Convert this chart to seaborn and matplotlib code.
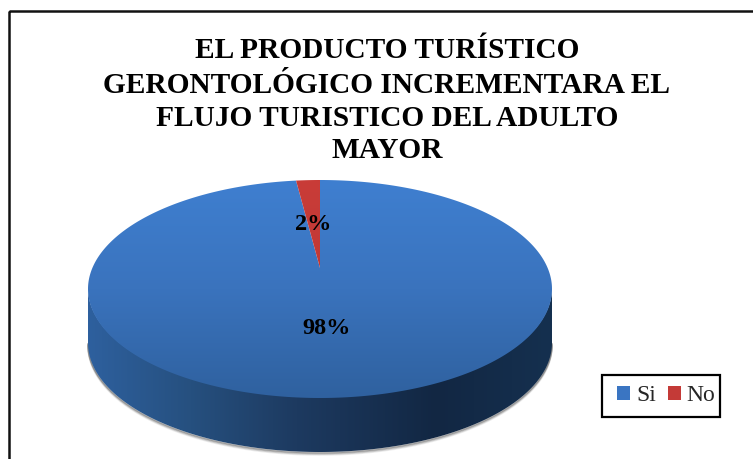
import numpy as np
import matplotlib
matplotlib.use("Agg")
import matplotlib.pyplot as plt
import seaborn as sns
from matplotlib.colors import LinearSegmentedColormap
from matplotlib.patches import Polygon, Patch, Rectangle

categories = ["Si", "No"]
values = [98, 2]
title_lines = ["EL PRODUCTO TURÍSTICO", "GERONTOLÓGICO INCREMENTARA EL",
               "FLUJO TURISTICO DEL ADULTO", "MAYOR"]
slice_colors = ["#3a75c2", "#c43a37"]

sns.set_theme(style="white")
plt.rcParams["font.family"] = ["Liberation Serif", "DejaVu Sans"]

W, H = 753, 459
fig = plt.figure(figsize=(W / 100, H / 100), dpi=100, facecolor="white")
ax = fig.add_axes([0, 0, 1, 1])
ax.set_xlim(0, W)
ax.set_ylim(H, 0)
ax.axis("off")

# helper axes: the pie is computed on a unit disc, then put in perspective
pie_ax = fig.add_axes([0, 0, .1, .1])
wedges, _ = pie_ax.pie(values, startangle=90, counterclock=False, radius=1)
pie_ax.set_visible(False)

cx, apex_y = 320, 268
c = 42 / 218
a = 88 * (1 + c)
half_w = 232
k = half_w * np.sqrt(1 - c ** 2)


def project(v):
    d = 1 + c * v[:, 1]
    return np.column_stack([cx + k * v[:, 0] / d, apex_y - a * v[:, 1] / d])


def wedge_outline(w):
    th = np.radians(np.linspace(w.theta1, w.theta2, 400))
    rim = np.column_stack([w.r * np.cos(th), w.r * np.sin(th)])
    return np.vstack([[0.0, 0.0], rim])


ell_cy, ell_ry = 289, 109
depth = 54
t = np.linspace(0, np.pi, 400)
top_x = cx + half_w * np.cos(t)
top_y = ell_cy + ell_ry * np.sin(t)
wall_poly = np.concatenate([np.column_stack([top_x, top_y + depth]),
                            np.column_stack([top_x[::-1], top_y[::-1] - 1])])

# frame
ax.add_patch(Rectangle((9, 11), W + 20, H + 20, fill=False, ec="#111111", lw=1.8, zorder=1))

# soft shadow under the wall
for off, al in [(3.0, .10), (2.2, .18), (1.4, .28), (0.7, .4)]:
    ax.plot(top_x, top_y + depth + off, color="#555555", alpha=al,
            lw=1.2, zorder=2, solid_capstyle="round")

# wall with a horizontal gradient
wall_cmap = LinearSegmentedColormap.from_list(
    "wall", [(0, "#2e609e"), (.22, "#26507f"), (.45, "#1d3a60"), (.75, "#122743"), (1, "#15304f")])
im = ax.imshow(np.linspace(0, 1, 256)[None, :], extent=(cx - half_w, cx + half_w, H, 0),
               cmap=wall_cmap, aspect="auto", zorder=3)
clip = Polygon(wall_poly, transform=ax.transData, fc="none", ec="none")
ax.add_patch(clip)
im.set_clip_path(clip)

# top face with a vertical gradient, from the pie's wedges
face_maps = [
    LinearSegmentedColormap.from_list("b", ["#3f7fd0", "#3a73bd", "#2f619f"]),
    LinearSegmentedColormap.from_list("r", ["#c93c38", "#b73431"]),
]
for w, cm in zip(wedges, face_maps):
    poly = Polygon(project(wedge_outline(w)), closed=True, fc="none", ec="none", transform=ax.transData)
    ax.add_patch(poly)
    img = ax.imshow(np.linspace(0, 1, 256)[:, None], extent=(0, W, 398, 180), cmap=cm,
                    aspect="auto", zorder=4)
    img.set_clip_path(poly)
ax.set_xlim(0, W)
ax.set_ylim(H, 0)

# percentage labels
ax.text(313, 224, f"{values[1]}%", ha="center", va="center", fontsize=17.5, fontweight="bold",
        color="black", zorder=6)
ax.text(327, 328, f"{values[0]}%", ha="center", va="center", fontsize=17.5, fontweight="bold",
        color="black", zorder=6)

# title
for line, y in zip(title_lines, [50.5, 85.5, 118.5, 151]):
    ax.text(387, y, line, ha="center", va="center", fontsize=21.2, fontweight="bold",
            color="black", zorder=6)

# legend
ax.add_patch(Rectangle((602.5, 374.5), 117.5, 42.5, fc="white", ec="black", lw=1.6, zorder=6))
handles = [Patch(fc=col, ec="none", label=lab) for lab, col in zip(categories, slice_colors)]
leg = ax.legend(handles=handles, ncol=2, loc="center left", bbox_to_anchor=(617 / W, 1 - 395.5 / H),
                frameon=False, fontsize=17,
                handlelength=.55, handleheight=.55, handletextpad=.25, columnspacing=.5,
                borderpad=0, borderaxespad=0)
leg.set_zorder(7)

fig.savefig("out.png", dpi=100, facecolor="white")
